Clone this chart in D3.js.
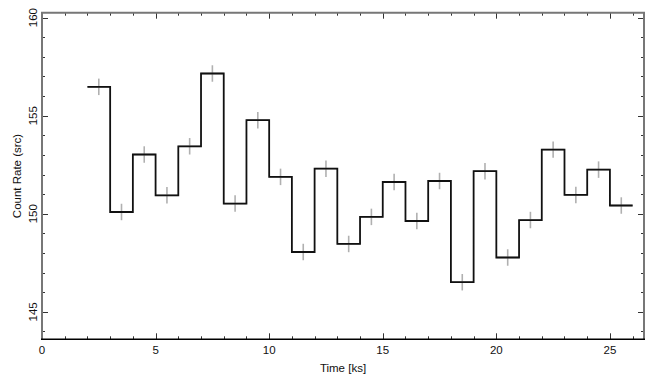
<!DOCTYPE html>
<html>
<head>
<meta charset="utf-8">
<script src="https://cdn.jsdelivr.net/npm/d3@7"></script>
<style>
  body { margin: 0; background: #fff; }
  text { font-family: "Liberation Sans", Arial, sans-serif; fill: #111; }
</style>
</head>
<body>
<div id="chart"></div>
<script>
// light curve, 1 ks bins
const binStart = [2, 3, 4, 5, 6, 7, 8, 9, 10, 11, 12, 13, 14, 15, 16, 17, 18, 19, 20, 21, 22, 23, 24, 25];
const rate = [156.47, 150.09, 153.02, 150.94, 153.44, 157.15, 150.52, 154.77, 151.88, 148.05, 152.30, 148.46,
              149.84, 151.62, 149.63, 151.67, 146.51, 152.17, 147.77, 149.68, 153.27, 150.96, 152.25, 150.42];
const rateErr = [0.42, 0.42, 0.42, 0.42, 0.42, 0.42, 0.42, 0.42, 0.42, 0.42, 0.42, 0.42,
                 0.42, 0.42, 0.42, 0.42, 0.42, 0.42, 0.42, 0.42, 0.42, 0.42, 0.42, 0.42];
const binWidth = 1;
const xMajor = [0, 5, 10, 15, 20, 25];
const yMajor = [145, 150, 155, 160];

const W = 655, H = 386;
const m = { left: 42, right: 11, top: 12.7, bottom: 46.7 };

const svg = d3.select('#chart').append('svg')
  .attr('width', W).attr('height', H);

const x = d3.scaleLinear().domain([0, 26.5]).range([m.left, W - m.right]);
const y = d3.scaleLinear().domain([143.6, 160.25]).range([H - m.bottom, m.top]);

const x0 = m.left, x1 = W - m.right, y0 = H - m.bottom, y1 = m.top;

// minor ticks every 1 unit
const xMinor = d3.range(1, 27).filter(v => v % 5 !== 0);
const yMinor = d3.range(144, 161).filter(v => v % 5 !== 0);

const ticks = svg.append('g').attr('stroke', '#333').attr('stroke-width', 1);
function tickLines(vals, len, isX) {
  vals.forEach(v => {
    if (isX) {
      const px = Math.round(x(v)) + 0.5;
      ticks.append('line').attr('x1', px).attr('x2', px).attr('y1', y0).attr('y2', y0 - len);
      ticks.append('line').attr('x1', px).attr('x2', px).attr('y1', y1).attr('y2', y1 + len);
    } else {
      const py = Math.round(y(v)) + 0.5;
      ticks.append('line').attr('y1', py).attr('y2', py).attr('x1', x0).attr('x2', x0 + len);
      ticks.append('line').attr('y1', py).attr('y2', py).attr('x1', x1).attr('x2', x1 - len);
    }
  });
}
tickLines(xMinor, 3, true);
tickLines(xMajor, 6, true);
tickLines(yMinor, 3, false);
tickLines(yMajor, 6, false);

// frame: grey on three sides, black along the bottom
svg.append('path')
  .attr('d', `M${x0},${y0}V${y1}H${x1}V${y0}`)
  .attr('fill', 'none').attr('stroke', '#777').attr('stroke-width', 2);
svg.append('line')
  .attr('x1', x0 - 1).attr('x2', x1 + 1).attr('y1', y0).attr('y2', y0)
  .attr('stroke', '#000').attr('stroke-width', 1.5);

// tick labels
svg.append('g').selectAll('text').data(xMajor).enter().append('text')
  .attr('x', d => x(d)).attr('y', y0 + 15)
  .attr('text-anchor', 'middle').attr('font-size', 11.5)
  .text(d => d);
svg.append('g').selectAll('text').data(yMajor).enter().append('text')
  .attr('transform', d => `translate(${x0 - 5},${y(d)}) rotate(-90)`)
  .attr('text-anchor', 'middle').attr('font-size', 11.5)
  .text(d => d);

// axis titles
svg.append('text')
  .attr('x', (x0 + x1) / 2).attr('y', 372)
  .attr('text-anchor', 'middle').attr('font-size', 11.5)
  .text('Time [ks]');
svg.append('text')
  .attr('transform', `translate(21,${(y0 + y1) / 2}) rotate(-90)`)
  .attr('text-anchor', 'middle').attr('font-size', 11.5)
  .text('Count Rate (src)');

// error bars
const err = svg.append('g').attr('stroke', '#b0b0b0').attr('stroke-width', 1.6);
binStart.forEach((b, i) => {
  const cx = x(b + binWidth / 2);
  err.append('line')
    .attr('x1', cx).attr('x2', cx)
    .attr('y1', y(rate[i] - rateErr[i])).attr('y2', y(rate[i] + rateErr[i]));
  err.append('line')
    .attr('x1', x(b)).attr('x2', x(b + binWidth))
    .attr('y1', y(rate[i])).attr('y2', y(rate[i]));
});

// histogram step line
const pts = [];
binStart.forEach((b, i) => {
  pts.push([b, rate[i]]);
  pts.push([b + binWidth, rate[i]]);
});
const line = d3.line().x(d => x(d[0])).y(d => y(d[1]));
svg.append('path')
  .attr('d', line(pts))
  .attr('fill', 'none').attr('stroke', '#111').attr('stroke-width', 1.8);
</script>
</body>
</html>
